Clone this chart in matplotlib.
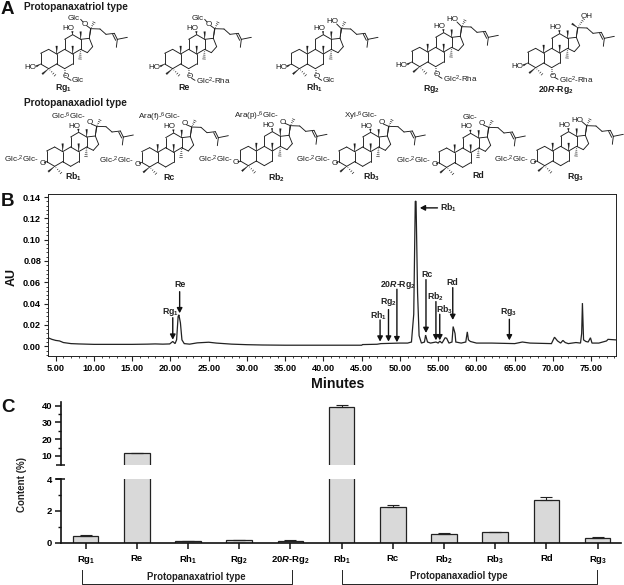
import matplotlib
matplotlib.use("Agg")
import matplotlib.pyplot as plt
from matplotlib.patches import Polygon
from matplotlib.ticker import MultipleLocator, FixedLocator
import numpy as np

plt.rcParams.update({
    "font.family": ["Liberation Sans", "DejaVu Sans"],
    "mathtext.fontset": "custom",
    "mathtext.rm": "Liberation Sans",
    "mathtext.it": "Liberation Sans:italic:bold",
    "mathtext.bf": "Liberation Sans:bold",
    "mathtext.default": "regular",
})

# ---------- data: chromatogram ----------
trace_time = [4, 4.5, 5, 5.5, 6, 7, 8, 10, 15, 17, 18, 19, 19.9, 20.3, 20.6, 20.8, 21.0, 21.1, 21.3, 21.5,
              21.8, 22.5, 23.5, 25, 26, 28, 30, 32, 35, 40, 45, 45.1, 47, 47.5, 50, 51, 51.5, 51.8, 52.0, 52.1,
              52.3, 52.5, 52.8, 53.2, 53.35, 53.6, 54, 54.7, 55, 55.2, 55.5, 55.9, 56.1, 56.4, 56.8, 56.95,
              57.2, 57.3, 58, 58.6, 58.8, 58.95, 59.2, 60, 62, 65, 66, 67, 69.8, 70.2, 70.6, 71, 71.3, 71.6,
              72, 73, 73.6, 73.75, 73.85, 74, 74.3, 74.6, 74.9, 75.1, 76, 77, 77.2, 78.2]
trace_au = [.008, .0065, .0055, .005, .0035, .0025, .0022, .0018, .0018, .002, .0022, .002, .0022, .0045,
            .0025, .006, .028, .0295, .022, .006, .0025, .002, .0032, .0038, .003, .002, .0015, .0012, .001,
            .001, .001, .0016, .0019, .0025, .003, .003, .004, .03, .136, .136, .05, .01, .003, .004, .0105,
            .004, .003, .004, .003, .0048, .003, .008, .0075, .003, .004, .0185, .012, .004, .003, .004,
            .0135, .006, .0045, .003, .003, .0025, .004, .003, .0025, .0085, .005, .003, .0055, .0035, .0025,
            .0035, .003, .012, .0405, .006, .0045, .004, .008, .003, .003, .005, .0065, .006]

peak_names = ["Rg$_1$", "Re", "Rh$_1$", "Rg$_2$", "20$\\mathit{R}$-Rg$_2$", "Rc", "Rb$_2$", "Rb$_3$", "Rd", "Rg$_3$"]
peak_times = [20.3, 21.2, 47.4, 48.5, 49.6, 53.4, 54.7, 55.2, 56.9, 64.3]
arrow_tops = [.0268, .0512, .0247, .0344, .0535, .0625, .0419, .030, .055, .0253]
arrow_heads = [.0062, .031, .0044, .0044, .0038, .0125, .0056, .0056, .0247, .0056]
label_times = [20.0, 21.2, 47.2, 48.5, 49.7, 53.5, 54.7, 55.8, 56.85, 64.2]
label_au = [.032, .0582, .029, .0413, .0575, .0675, .0466, .0338, .0597, .0322]

# ---------- data: contents ----------
compounds = ["Rg$_1$", "Re", "Rh$_1$", "Rg$_2$", "20$\\mathit{R}$-Rg$_2$",
             "Rb$_1$", "Rc", "Rb$_2$", "Rb$_3$", "Rd", "Rg$_3$"]
content = [0.44, 11.9, 0.08, 0.15, 0.13, 39.0, 2.25, 0.52, 0.65, 2.69, 0.27]
content_err = [0.06, 0.1, 0.02, 0.04, 0.02, 1.7, 0.13, 0.07, 0.02, 0.17, 0.06]

W, H = 624, 585
fig = plt.figure(figsize=(W / 100, H / 100), dpi=100)
PT = 72 / 100


def px_axes(l, t, r, b):
    return fig.add_axes([l / W, 1 - b / H, (r - l) / W, (b - t) / H])


# ---------- overlay for panel A, letters and brackets ----------
ov = px_axes(0, 0, W, H)
ov.set_xlim(0, W)
ov.set_ylim(H, 0)
ov.axis("off")
ov.set_zorder(5)
INK = "#1c1c1c"

ATOMS = dict(a1=(122, 160), a2=(146, 148), c10=(170, 162), c5=(170, 192), c4=(146, 206), c3=(122, 192),
             c6=(194, 206), c7=(218, 192), c8=(218, 162), c9=(194, 148), c11=(194, 118), c12=(218, 104),
             c13=(242, 118), c14=(242, 148), c17=(268, 115), c16=(278, 140), c15=(262, 158),
             c20=(272, 86), s1=(300, 87), s2=(318, 103), s3=(343, 100), s4=(352, 118), s5=(382, 112),
             s6=(349, 142))
BONDS = ["a1 a2", "a2 c10", "c10 c5", "c5 c4", "c4 c3", "c3 a1", "c5 c6", "c6 c7", "c7 c8", "c8 c9", "c9 c10",
         "c9 c11", "c11 c12", "c12 c13", "c13 c14", "c14 c8", "c13 c17", "c17 c16", "c16 c15", "c15 c14",
         "c17 c20", "c20 s1", "s1 s2", "s2 s3", "s3 s4", "s4 s5", "s4 s6"]


def mol(dx, dy):
    def P(p):
        return (dx + p[0]) / 3, (dy + p[1]) / 3

    def line(p, q, lw=0.65):
        (a, b), (c, d) = P(p), P(q)
        ov.plot([a, c], [b, d], color=INK, lw=lw, solid_capstyle="round")

    def wedge(p, q, w=5):
        p, q = np.array(p, float), np.array(q, float)
        n = np.array([-(q - p)[1], (q - p)[0]])
        n = n / np.hypot(*n) * w / 2
        ov.add_patch(Polygon([P(p), P(q + n), P(q - n)], closed=True, fc=INK, ec=INK, lw=0.2))

    def hashed(p, q, w=7, k=4):
        p, q = np.array(p, float), np.array(q, float)
        n = np.array([-(q - p)[1], (q - p)[0]])
        n = n / np.hypot(*n)
        for f in np.linspace(0.2, 1, k):
            c = p + (q - p) * f
            line(c - n * w * f / 2, c + n * w * f / 2, 0.45)

    def txt(p, s, ha="center", size=5.8):
        a, b = P(p)
        ov.text(a, b, s, ha=ha, va="center", fontsize=size, color=INK)

    for b in BONDS:
        u, v = b.split()
        line(ATOMS[u], ATOMS[v])
    a, b = np.array(ATOMS["s3"], float), np.array(ATOMS["s4"], float)
    line(a + (-5, 3), b + (-5, 3))
    wedge(ATOMS["c10"], (170, 138))
    wedge(ATOMS["c8"], (218, 138))
    wedge(ATOMS["c13"], (242, 95))
    wedge(ATOMS["c4"], (127, 222))
    hashed(ATOMS["c4"], (165, 226))
    hashed(ATOMS["c14"], (240, 177), w=9, k=5)
    wedge(ATOMS["c12"], (217, 94))
    wedge(ATOMS["c17"], (272, 88), w=3)
    txt((205, 85), "HO")
    return P, line, wedge, hashed, txt


def triol(dx, dy, top, bottom):
    P, line, wedge, hashed, txt = mol(dx, dy)
    txt((92, 203), "HO")
    wedge((122, 192), (109, 199))
    hashed((194, 206), (194, 224), w=6, k=3)
    txt((197, 231), "O")
    line((203, 235), (213, 241))
    txt((215, 243), bottom, ha="left")
    if top == "HO":
        txt((245, 65), "HO")
        line((272, 86), (258, 72))
        hashed((272, 86), (282, 67), w=8, k=4)
    elif top == "OH":
        txt((300, 54), "OH")
        wedge((272, 86), (255, 74))
        hashed((272, 86), (290, 60), w=7, k=5)
    else:
        txt((240, 54), top, ha="right")
        txt((254, 72), "O")
        line((242, 58), (249, 66))
        line((272, 86), (260, 77))
        hashed((272, 86), (282, 67), w=8, k=4)


def diol(dx, dy, top, left_right=97):
    P, line, wedge, hashed, txt = mol(dx, dy)
    txt((left_right, 186), "Glc-$^2$Glc-", ha="right")
    txt((109, 197), "O")
    wedge((122, 192), (115, 195))
    if top == "HO":
        txt((245, 69), "HO")
        line((272, 86), (258, 74))
    else:
        txt((238, 57), top, ha="right")
        txt((250, 75), "O")
        line((272, 86), (256, 79))
    hashed((272, 86), (282, 67), w=8, k=4)


triol(0, 0, "Glc", "Glc")
triol(372, 0, "Glc", "Glc$^2$-Rha")
triol(752, 0, "HO", "Glc")
triol(1113, -6, "HO", "Glc$^2$-Rha")
triol(1461, -3, "OH", "Glc$^2$-Rha")
diol(18, 293, "Glc-$^6$Glc-")
diol(303, 295, "Ara(f)-$^6$Glc-")
diol(599, 291, "Ara(p)-$^6$Glc-")
diol(894, 293, "Xyl-$^6$Glc-")
diol(1194, 296, "Glc-")
diol(1488, 291, "HO")

struct_labels = ["Rg$_1$", "Re", "Rh$_1$", "Rg$_2$", "20$\\mathit{R}$-Rg$_2$",
                 "Rb$_1$", "Rc", "Rb$_2$", "Rb$_3$", "Rd", "Rg$_3$"]
struct_x = [63, 184, 314, 431, 556, 73, 169, 276, 372, 478, 576]
struct_y = [88, 88, 88, 89, 90, 177, 177, 178, 177, 176, 177]
for s, x, y in zip(struct_labels, struct_x, struct_y):
    ov.text(x, y, s, ha="center", va="center", fontsize=6.3, fontweight="bold", color=INK)

ov.text(24, 7.5, "Protopanaxatriol type", ha="left", va="center", fontsize=7.3, fontweight="bold", color=INK)
ov.text(23.5, 102.5, "Protopanaxadiol type", ha="left", va="center", fontsize=7.3, fontweight="bold", color=INK)
for s, y in zip("ABC", [10, 201, 407]):
    ov.text(1, y, s, ha="left", va="center", fontsize=13.5, fontweight="bold", color="#111")

# ---------- panel B ----------
ax = px_axes(48.3, 193.7, 615.7, 356.3)
ax.plot(trace_time, trace_au, color="#222", lw=0.9, solid_joinstyle="miter")
ax.set_xlim(4.03, 78.2)
ax.set_ylim(-0.0094, 0.1431)
ax.xaxis.set_major_locator(MultipleLocator(5))
ax.xaxis.set_minor_locator(MultipleLocator(1))
ax.yaxis.set_major_locator(MultipleLocator(0.02))
ax.yaxis.set_minor_locator(MultipleLocator(0.004))
ax.xaxis.set_major_formatter(lambda v, _: f"{v:.2f}")
ax.yaxis.set_major_formatter(lambda v, _: f"{v:.2f}")
ax.tick_params(which="major", length=4.5 * PT, width=0.8, labelsize=6.6, pad=2, color="#222")
ax.tick_params(axis="x", which="major", pad=2.2)
ax.tick_params(which="minor", length=2.5 * PT, width=0.6, color="#222")
for t in ax.get_xticklabels() + ax.get_yticklabels():
    t.set_fontweight("bold")
for sp in ax.spines.values():
    sp.set_linewidth(0.7)
    sp.set_color("#222")

arrow_style = dict(arrowstyle="-|>,head_width=0.16,head_length=0.3", color="#111", lw=1.0, shrinkA=0, shrinkB=0)
for t, a, b in zip(peak_times, arrow_tops, arrow_heads):
    ax.annotate("", xy=(t, b), xytext=(t, a), arrowprops=arrow_style)
for s, t, y in zip(peak_names, label_times, label_au):
    ax.text(t, y, s, ha="center", va="center", fontsize=6.3, fontweight="bold", color="#222")
ax.annotate("", xy=(52.6, 0.1298), xytext=(54.9, 0.1298), arrowprops=arrow_style)
ax.text(55.2, 0.1298, "Rb$_1$", ha="left", va="center", fontsize=6.3, fontweight="bold", color="#222")

ov.text(12, 277, "AU", rotation=90, ha="center", va="center", fontsize=9, fontweight="bold", color="#111")
ov.text(338, 384, "Minutes", ha="center", va="center", fontsize=10.2, fontweight="bold", color="#111")

# ---------- panel C ----------
positions = np.arange(len(compounds))
upper = px_axes(60.7, 401.7, 620.7, 465.3)
lower = px_axes(60.7, 479.3, 620.7, 542.7)
for a in (upper, lower):
    a.bar(positions, content, width=0.5, facecolor="#d9d9d9", edgecolor="#222", linewidth=0.9)
    a.errorbar(positions, content, yerr=[np.zeros(len(content)), content_err], fmt="none",
               ecolor="#222", elinewidth=0.8, capsize=6.3 * PT, capthick=0.8)
    a.set_xlim(-0.488, 10.45)
    a.spines["top"].set_visible(False)
    a.spines["right"].set_visible(False)
    a.spines["left"].set_linewidth(1.2)
    a.spines["left"].set_color("#111")
    a.tick_params(axis="y", which="major", length=6 * PT, width=1.1, labelsize=6.8, pad=2, color="#111")
    a.tick_params(axis="y", which="minor", length=3.5 * PT, width=1.0, color="#111")
upper.set_ylim(4.45, 42.4)
upper.spines["bottom"].set_visible(False)
upper.set_xticks([])
upper.yaxis.set_major_locator(FixedLocator([10, 20, 30, 40]))
upper.yaxis.set_minor_locator(FixedLocator([15, 25, 35]))
lower.set_ylim(0, 4)
lower.yaxis.set_major_locator(FixedLocator([0, 2, 4]))
lower.yaxis.set_minor_locator(FixedLocator([1, 3]))
lower.spines["bottom"].set_linewidth(1.2)
lower.spines["bottom"].set_color("#111")
lower.set_xticks(positions, compounds)
lower.tick_params(axis="x", length=5.5 * PT, width=1.1, labelsize=6.8, pad=4, color="#111")
for t in upper.get_yticklabels() + lower.get_yticklabels() + lower.get_xticklabels():
    t.set_fontweight("bold")

# axis-break marks
for y in (465.3, 479.3):
    ov.plot([55.5, 65], [y, y], color="#111", lw=1.1, solid_capstyle="butt")

ov.text(22, 484, "Content (%)", rotation=90, ha="center", va="center", fontsize=7, fontweight="bold", color="#222")
for x0, x1, s, lx, ly in [(81.7, 291.7, "Protopanaxatriol type", 196, 577.5),
                          (341.7, 597.3, "Protopanaxadiol type", 459, 576)]:
    ov.plot([x0, x0, x1, x1], [570, 583.7, 583.7, 570], color="#222", lw=0.7)
    ov.text(lx, ly, s, ha="center", va="center", fontsize=6.9, fontweight="bold", color="#222")

fig.savefig("out.png", dpi=100)
